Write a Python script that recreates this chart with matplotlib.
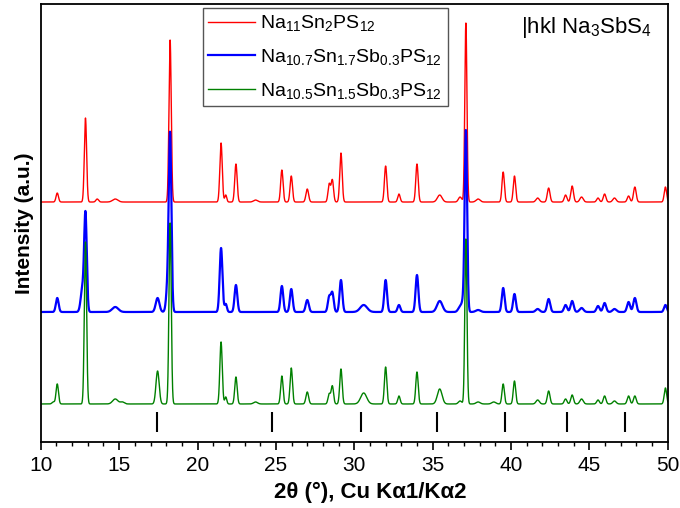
import numpy as np
import matplotlib
matplotlib.use("Agg")
import matplotlib.pyplot as plt
from matplotlib.ticker import MultipleLocator

plt.rcParams["font.family"] = ["Liberation Sans", "DejaVu Sans"]
plt.rcParams["mathtext.default"] = "regular"

# Reflection positions (2θ, degrees) shared by the three patterns
peak_pos = [10.8, 11.05, 12.65, 12.85, 13.6, 14.75, 15.2, 17.45, 18.1, 18.25,
            21.5, 21.8, 22.45, 23.7, 25.38, 25.98, 27.0, 28.4, 28.6, 29.15,
            30.6, 32.0, 32.85, 34.0, 35.45, 36.75, 36.95, 37.12, 37.9, 38.9,
            39.5, 40.22, 41.7, 42.4, 43.48, 43.9, 44.5, 45.55, 45.97, 46.6,
            47.5, 47.9, 49.85]
# Peak widths (FWHM, degrees)
peak_fwhm = [0.2, 0.18, 0.22, 0.17, 0.2, 0.4, 0.3, 0.24, 0.2, 0.17,
             0.18, 0.15, 0.18, 0.3, 0.18, 0.18, 0.2, 0.18, 0.18, 0.18,
             0.45, 0.18, 0.18, 0.18, 0.35, 0.25, 0.2, 0.16, 0.3, 0.3,
             0.18, 0.18, 0.25, 0.2, 0.2, 0.2, 0.25, 0.2, 0.2, 0.25,
             0.2, 0.2, 0.18]

# Peak intensities (a.u.) for each composition
int_sn2 = [0, 9, 0, 84, 3, 3, 0, 0, 0, 162,
           59, 7, 38, 2, 32, 26, 13, 18, 22, 49,
           0, 36, 8, 38, 7, 5, 0, 179, 3, 0,
           30, 26, 4, 14, 7, 16, 5, 4, 8, 4,
           6, 15, 15]
int_sn17 = [0, 14, 22, 97, 0, 5, 0, 14, 26, 172,
            64, 8, 27, 0, 26, 23, 12, 15, 19, 32,
            7, 32, 7, 37, 11, 5, 9, 180, 2, 0,
            24, 18, 3, 13, 7, 11, 4, 6, 9, 3,
            10, 14, 7]
int_sn15 = [2, 20, 0, 162, 0, 5, 2, 33, 0, 181,
            62, 7, 27, 2, 28, 36, 12, 10, 18, 35,
            11, 37, 8, 32, 15, 3, 0, 165, 2, 2,
            20, 23, 4, 13, 5, 9, 5, 4, 8, 3,
            8, 8, 16]

# Vertical offsets of the stacked patterns
offsets = [240, 130, 38]

# Na3SbS4 reference reflections
hkl_pos = [17.42, 24.75, 30.42, 35.25, 39.6, 43.55, 47.27]

labels = ["Na$_{11}$Sn$_{2}$PS$_{12}$",
          "Na$_{10.7}$Sn$_{1.7}$Sb$_{0.3}$PS$_{12}$",
          "Na$_{10.5}$Sn$_{1.5}$Sb$_{0.3}$PS$_{12}$"]
colors = ["#ff0000", "#0000ff", "#008000"]
widths = [1.0, 1.6, 1.0]
broaden = [1.0, 1.15, 1.0]

two_theta = np.arange(10.0, 50.0001, 0.005)


def pattern(intensities, scale):
    y = np.zeros_like(two_theta)
    for p, w, h in zip(peak_pos, peak_fwhm, intensities):
        if h == 0:
            continue
        sigma = w * scale / 2.3548
        y += h * np.exp(-0.5 * ((two_theta - p) / sigma) ** 2)
    return y


fig = plt.figure(figsize=(6.8, 5.08), dpi=100)
ax = fig.add_axes([0.060, 0.130, 0.922, 0.862])

for ints, off, col, lw, lab, b in zip([int_sn2, int_sn17, int_sn15], offsets,
                                      colors, widths, labels, broaden):
    ax.plot(two_theta, pattern(ints, b) + off, color=col, lw=lw, label=lab)

ax.vlines(hkl_pos, 10, 30, color="black", lw=1.5)

ax.set_xlim(10, 50)
ax.set_ylim(0, 438)
ax.xaxis.set_major_locator(MultipleLocator(5))
ax.xaxis.set_minor_locator(MultipleLocator(1))
ax.tick_params(axis="x", which="major", direction="out", length=5.8, width=1.2,
               labelsize=15, pad=4.5)
ax.tick_params(axis="x", which="minor", direction="out", length=3.0, width=1.0)
ax.set_yticks([])
for s in ax.spines.values():
    s.set_linewidth(1.3)

ax.set_xlabel("2θ (°), Cu Kα1/Kα2", fontsize=16, fontweight="bold")
ax.xaxis.set_label_coords(0.525, -0.115, transform=ax.transAxes)
ax.xaxis.label.set_va("center")
ax.set_ylabel("Intensity (a.u.)", fontsize=15, fontweight="bold", labelpad=5)

leg = ax.legend(loc="upper left", bbox_to_anchor=(0.258, 0.992),
                borderaxespad=0, fontsize=14, handlelength=2.4,
                handletextpad=0.25, labelspacing=0.7, borderpad=0.3,
                fancybox=False, framealpha=1)
leg.get_frame().set_edgecolor("#555555")
leg.get_frame().set_linewidth(1.0)

ax.text(0.766, 0.934, "|hkl Na$_3$SbS$_4$", transform=ax.transAxes,
        fontsize=16, va="baseline", ha="left")

fig.savefig("out.png", dpi=100)
